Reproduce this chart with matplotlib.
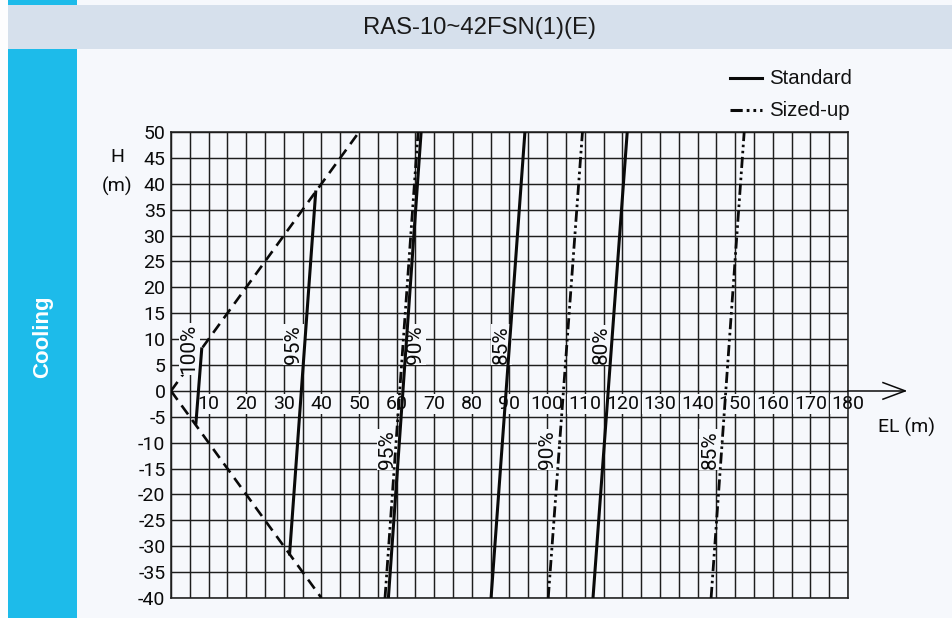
import matplotlib
matplotlib.use("Agg")
import matplotlib.pyplot as plt
from matplotlib.lines import Line2D
from matplotlib.patches import Rectangle

plt.rcParams['font.family'] = ['Liberation Sans', 'DejaVu Sans']

# ---------------- data ----------------
title = "RAS-10~42FSN(1)(E)"
side_label = "Cooling"

x_ticks = list(range(0, 181, 5))
x_labels = list(range(10, 181, 10))
y_ticks = list(range(-40, 51, 5))

# envelope (dashed)
env_upper_x = [0, 50]
env_upper_y = [0, 50]
env_lower_x = [0, 40]
env_lower_y = [0, -40]

# Standard (solid) capacity lines: (EL, H) endpoints
std_names = ["100%", "95%", "90%", "85%", "80%"]
std_x = [[6.6, 8.2], [31.5, 38.5], [57.8, 66.5], [85.1, 94.1], [112.2, 121.3]]
std_y = [[-6.5, 8.4], [-31.8, 38.7], [-40, 50], [-40, 50], [-40, 50]]

# Sized-up (dash-dot-dot) capacity lines
siz_names = ["95%", "90%", "85%"]
siz_x = [[56.9, 65.7], [100.3, 109.4], [143.6, 152.4]]
siz_y = [[-40, 50], [-40, 50], [-40, 50]]

# label anchor points (EL, H)
std_lab_x = [4.8, 32.6, 65.1, 87.8, 114.3]
std_lab_y = [8.1, 9.0, 8.9, 8.9, 8.9]
siz_lab_x = [57.6, 100.2, 143.3]
siz_lab_y = [-11.3, -11.3, -11.3]

# ---------------- styling ----------------
W, H = 953, 618
BG = '#f6f8fc'
BAND = '#d6e0ec'
BLUE = '#1dbbea'
INK = '#0a0a0a'
GRID = '#1e1e1e'
CAD = dict(family=['Roboto', 'Liberation Sans', 'DejaVu Sans'],
           weight='normal')

fig = plt.figure(figsize=(W / 100, H / 100), dpi=100, facecolor=BG)

# left white strip, blue bar, title band
fig.add_artist(Rectangle((0, 0), 8 / W, 1, transform=fig.transFigure,
                         facecolor='#fdfdfe', edgecolor='none', zorder=0))
fig.add_artist(Rectangle((8 / W, 0), 69 / W, 1, transform=fig.transFigure,
                         facecolor=BLUE, edgecolor='none', zorder=0))
fig.add_artist(Rectangle((8 / W, 1 - 49 / H), 1 - 8 / W, 44 / H,
                         transform=fig.transFigure,
                         facecolor=BAND, edgecolor='none', zorder=1))
fig.text(480 / W, 1 - 28 / H, title, ha='center', va='center',
         fontsize=17.2, color='#1a1a1a', zorder=2)
fig.text(43 / W, 1 - 337 / H, side_label, rotation=90, ha='center',
         va='center', fontsize=16, fontweight='bold', color='white', zorder=2)

ax = fig.add_axes([171 / W, 1 - 598 / H, 677 / W, 466 / H])
ax.set_facecolor(BG)
ax.set_xlim(0, 180)
ax.set_ylim(-40, 50)

ax.set_xticks(x_ticks)
ax.set_yticks(y_ticks)
ax.set_yticklabels([str(v) for v in y_ticks], **CAD)
ax.tick_params(axis='x', length=0, labelbottom=False)
ax.tick_params(axis='y', length=0, pad=4, labelsize=14, labelcolor=INK)
ax.grid(True, color=GRID, linewidth=1.05, zorder=1)
ax.set_axisbelow(True)
for s in ax.spines.values():
    s.set_color(GRID)
    s.set_linewidth(1.15)

# x tick labels sitting under the EL axis line, masking the grid
for v in x_labels:
    ax.text(v, -0.75, str(v), ha='center', va='top', fontsize=14,
            color=INK, zorder=2, **CAD,
            bbox=dict(boxstyle='square,pad=0.06', facecolor=BG,
                      edgecolor='none'))

# axis arrow extension
ax.plot([180, 195.2], [0, 0], color=INK, lw=1.1, clip_on=False, zorder=3)
ax.plot([189.3, 195.2, 189.3], [1.6, 0, -1.6], color=INK, lw=1.1,
        clip_on=False, zorder=3)

# envelope
dash_style = (0, (4.2, 2.6))
ax.plot(env_upper_x, env_upper_y, color=INK, lw=1.9, linestyle=dash_style,
        zorder=3)
ax.plot(env_lower_x, env_lower_y, color=INK, lw=1.9, linestyle=dash_style,
        zorder=3)

# standard lines
for xs, ys in zip(std_x, std_y):
    ax.plot(xs, ys, color=INK, lw=2.2, solid_capstyle='butt', zorder=4)

# sized-up lines
dd_style = (0, (4.0, 1.3, 0.9, 1.3, 0.9, 1.3))
for xs, ys in zip(siz_x, siz_y):
    ax.plot(xs, ys, color=INK, lw=2.0, linestyle=dd_style, zorder=4)

# percentage labels (mask grid and envelope, but sit below the curves)
lab_bbox = dict(boxstyle='square,pad=0.05', facecolor=BG, edgecolor='none')
for name, lx, ly in zip(std_names, std_lab_x, std_lab_y):
    ax.text(lx, ly, name, rotation=90, ha='center', va='center',
            fontsize=15, color=INK, zorder=3.5, bbox=lab_bbox, **CAD)
for name, lx, ly in zip(siz_names, siz_lab_x, siz_lab_y):
    ax.text(lx, ly, name, rotation=90, ha='center', va='center',
            fontsize=15, color=INK, zorder=3.5, bbox=lab_bbox, **CAD)

# axis titles
fig.text(117 / W, 1 - 157 / H, "H", ha='center', va='center',
         fontsize=14, color=INK, **CAD)
fig.text(117 / W, 1 - 186 / H, "(m)", ha='center', va='center',
         fontsize=14, color=INK, **CAD)
fig.text(907 / W, 1 - 427 / H, "EL (m)", ha='center', va='center',
         fontsize=14, color=INK, **CAD)

# legend
fig.add_artist(Line2D([730 / W, 762 / W], [1 - 78 / H, 1 - 78 / H],
                      transform=fig.transFigure, color=INK, lw=2.2))
fig.add_artist(Line2D([730 / W, 762 / W], [1 - 110 / H, 1 - 110 / H],
                      transform=fig.transFigure, color=INK, lw=2.2,
                      linestyle=dd_style))
fig.text(769 / W, 1 - 78 / H, "Standard", ha='left', va='center',
         fontsize=14.7, color='#111111')
fig.text(769 / W, 1 - 110 / H, "Sized-up", ha='left', va='center',
         fontsize=14.7, color='#111111')

fig.savefig("out.png", dpi=100, facecolor=BG)
